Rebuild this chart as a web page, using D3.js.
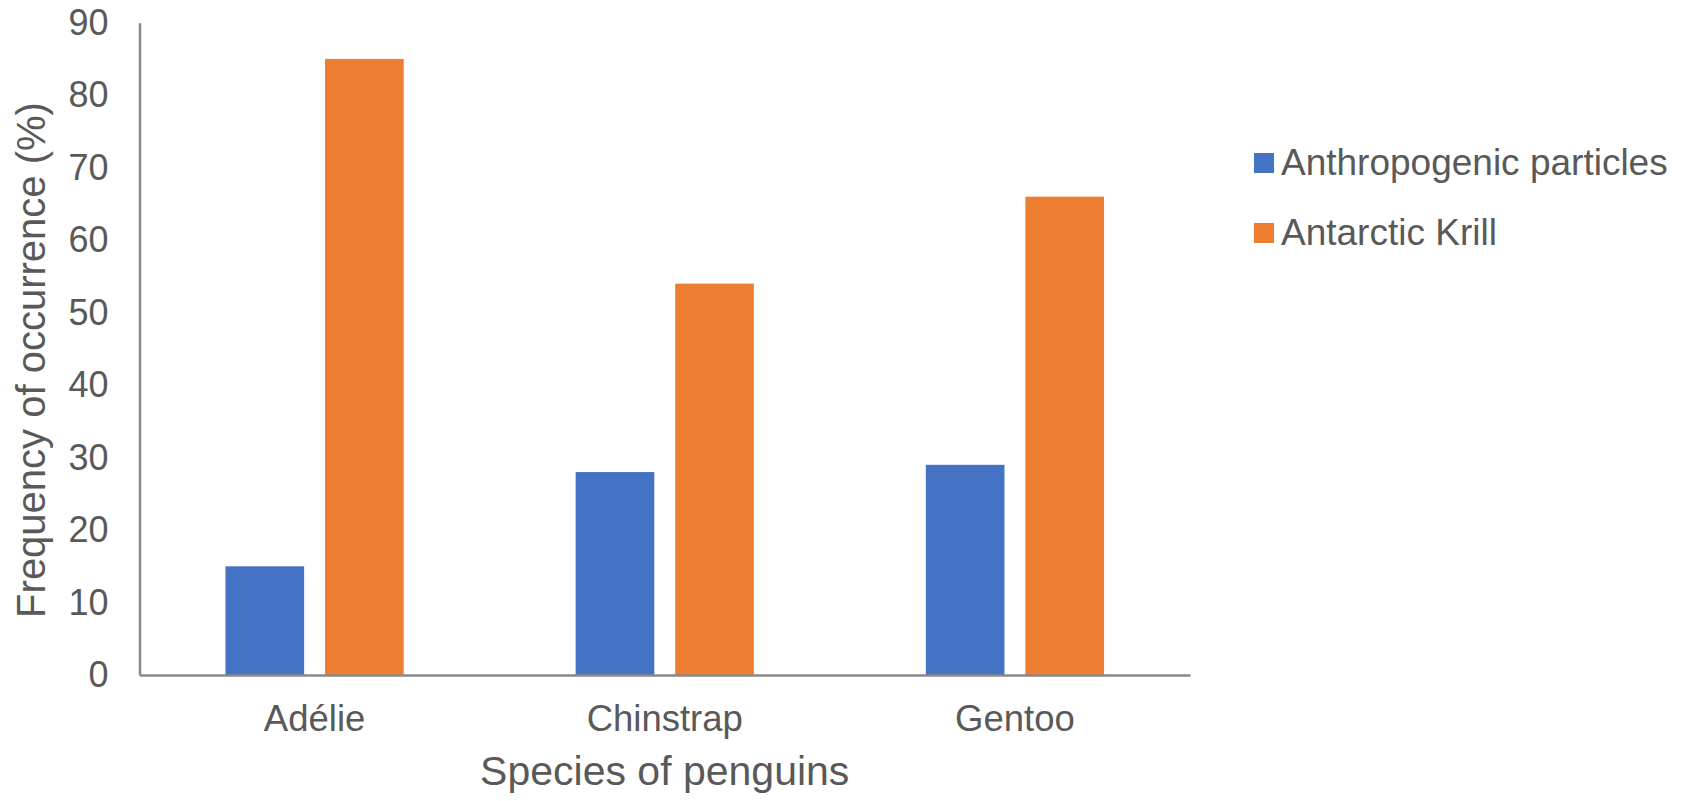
<!DOCTYPE html>
<html>
<head>
<meta charset="utf-8">
<script src="https://cdn.jsdelivr.net/npm/d3@7"></script>
<style>
    body { margin: 0; background: #ffffff; }
    text { font-family: "Liberation Sans", Arial, sans-serif; fill: #595959; }
</style>
</head>
<body>
<div id="chart_container"></div>
<script>
// Data
var species = ["Adélie", "Chinstrap", "Gentoo"];
var seriesNames = ["Anthropogenic particles", "Antarctic Krill"];
var anthropogenic = [15, 28, 29];
var krill = [85, 54, 66];
var yTicks = [0, 10, 20, 30, 40, 50, 60, 70, 80, 90];
var seriesColors = ["#4472C4", "#ED7D31"];

var chart_width = 1689;
var chart_height = 801;

var margin = { top: 22.7, right: 499, bottom: 126, left: 139.5 };
var width = chart_width - margin.left - margin.right;
var height = chart_height - margin.top - margin.bottom;

var svg = d3.select("#chart_container")
    .append("svg")
    .attr("width", chart_width)
    .attr("height", chart_height);

var plot = svg.append("g")
    .attr("transform", "translate(" + margin.left + "," + margin.top + ")");

// build rows for grouped bars
var rows = species.map(function (s, i) {
    return { species: s, values: [anthropogenic[i], krill[i]] };
});

var x0 = d3.scaleBand()
    .domain(species)
    .range([0, width])
    .paddingInner(0.491)
    .paddingOuter(0.2455);

var x1 = d3.scaleBand()
    .domain(seriesNames)
    .range([0, x0.bandwidth()])
    .paddingInner(0.21);

var y = d3.scaleLinear()
    .domain([0, 90])
    .range([height, 0]);

// bars
var groups = plot.selectAll(".group")
    .data(rows)
    .enter().append("g")
    .attr("class", "group")
    .attr("transform", function (d) { return "translate(" + x0(d.species) + ",0)"; });

groups.selectAll("rect")
    .data(function (d) {
        return d.values.map(function (v, j) { return { name: seriesNames[j], value: v, idx: j }; });
    })
    .enter().append("rect")
    .attr("x", function (d) { return x1(d.name); })
    .attr("width", x1.bandwidth())
    .attr("y", function (d) { return y(d.value); })
    .attr("height", function (d) { return height - y(d.value); })
    .attr("fill", function (d) { return seriesColors[d.idx]; });

// Y axis
var yAxis = d3.axisLeft(y)
    .tickValues(yTicks)
    .tickSize(0)
    .tickPadding(31);

var yG = plot.append("g")
    .attr("class", "axis")
    .call(yAxis);
yG.selectAll("text")
    .style("font-size", "36px")
    .style("font-family", "'Liberation Sans', Arial, sans-serif")
    .attr("fill", "#595959");
yG.select(".domain").attr("stroke", "#898989").attr("stroke-width", 2.5);

// X axis
var xAxis = d3.axisBottom(x0)
    .tickSize(0)
    .tickPadding(30);

var xG = plot.append("g")
    .attr("class", "axis")
    .attr("transform", "translate(0," + height + ")")
    .call(xAxis);
xG.selectAll("text")
    .style("font-size", "36.5px")
    .style("font-family", "'Liberation Sans', Arial, sans-serif")
    .attr("fill", "#595959");
xG.select(".domain").attr("stroke", "#898989").attr("stroke-width", 2.5);

// axis titles
svg.append("text")
    .attr("x", margin.left + width / 2)
    .attr("y", 785)
    .attr("text-anchor", "middle")
    .style("font-size", "41px")
    .text("Species of penguins");

svg.append("text")
    .attr("transform", "translate(45,360) rotate(-90)")
    .attr("text-anchor", "middle")
    .style("font-size", "40px")
    .text("Frequency of occurrence (%)");

// legend
var legend = svg.append("g")
    .attr("transform", "translate(1254,153)");

var items = legend.selectAll(".item")
    .data(seriesNames)
    .enter().append("g")
    .attr("class", "item")
    .attr("transform", function (d, i) { return "translate(0," + (i * 70) + ")"; });

items.append("rect")
    .attr("width", 20)
    .attr("height", 20)
    .attr("fill", function (d, i) { return seriesColors[i]; });

items.append("text")
    .attr("x", 27)
    .attr("y", 22)
    .style("font-size", "37px")
    .text(function (d) { return d; });
</script>
</body>
</html>
